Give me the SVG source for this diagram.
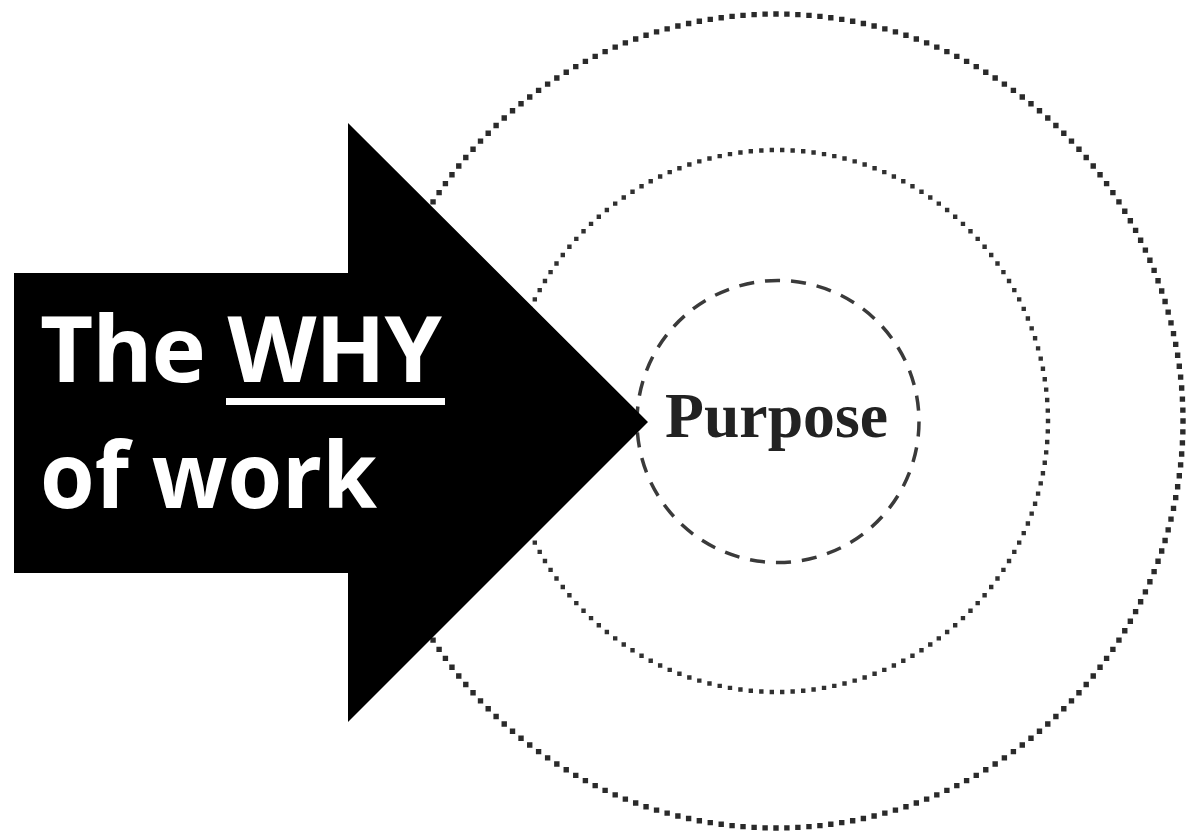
<svg xmlns="http://www.w3.org/2000/svg" width="1186" height="836" viewBox="0 0 1186 836">
<style>
.ring{fill:none}
.outer{stroke:#2a2a2a;stroke-width:5.4;stroke-linecap:square;stroke-dasharray:0 1}
.middle{stroke:#303030;stroke-width:4.4;stroke-linecap:square;stroke-dasharray:0 1}
.inner{fill:none;stroke:#3a3a3a;stroke-width:3.5;stroke-dasharray:0.58 0.42}
.why{font-family:"Open Sans","Liberation Sans",sans-serif;font-weight:700;font-size:92px;fill:#fff}
.purpose{font-family:"Liberation Serif","DejaVu Serif",serif;font-weight:700;font-size:64px;fill:#222}
</style>
<rect width="1186" height="836" fill="#fff"/>
<g id="rings">
<circle id="ring-outer" class="ring outer" cx="776" cy="421" r="407" pathLength="232"/>
<circle id="ring-middle" class="ring middle" cx="777" cy="421" r="271" pathLength="162"/>
<circle id="ring-inner" class="inner" cx="778" cy="421.5" r="141" pathLength="34"/>
</g>
<g id="purpose">
<text class="purpose" x="665" y="437" textLength="223" lengthAdjust="spacingAndGlyphs">Purpose</text>
</g>
<g id="arrow">
<polygon points="14,273 348,273 348,123 648,422 348,722 348,573 14,573" fill="#000"/>
<text class="why" x="40" y="382" textLength="402">The WHY</text>
<line x1="226" y1="401.5" x2="445" y2="401.5" stroke="#fff" stroke-width="7"/>
<text class="why" x="40" y="508" textLength="337" lengthAdjust="spacingAndGlyphs">of work</text>
</g>
</svg>
